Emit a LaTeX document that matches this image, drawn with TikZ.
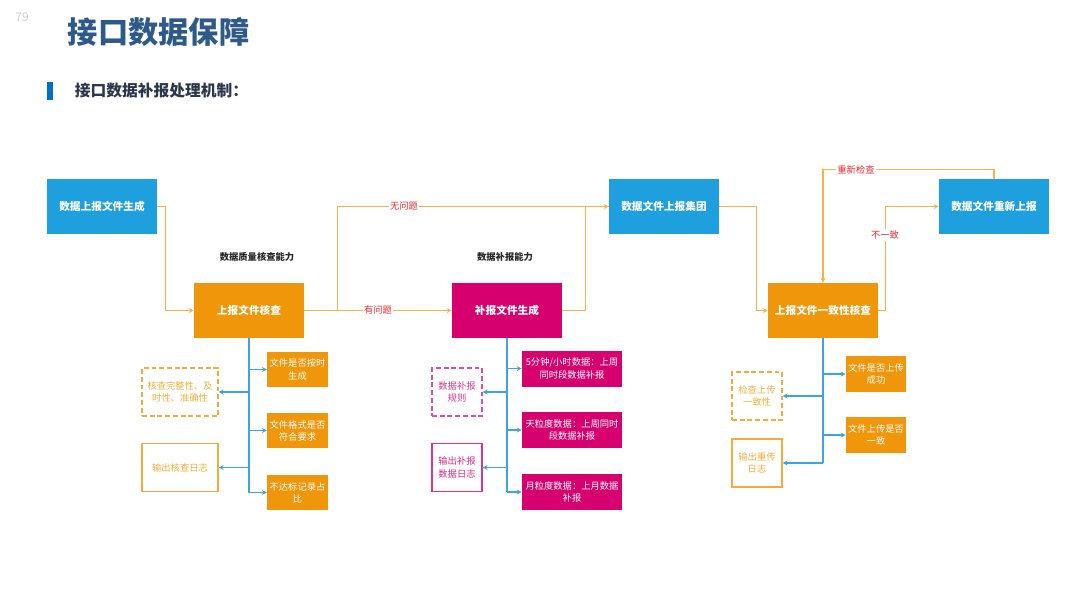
\documentclass[tikz,border=0pt]{standalone}
\usepackage{fontspec}
\setmainfont{Noto Sans CJK SC}
\usetikzlibrary{arrows.meta,positioning}
\definecolor{boxblue}{RGB}{30,160,222}
\definecolor{boxorange}{RGB}{240,150,10}
\definecolor{boxmagenta}{RGB}{214,0,110}
\definecolor{lineorange}{RGB}{245,178,70}
\definecolor{lineblue}{RGB}{60,165,220}
\definecolor{lblred}{RGB}{232,40,45}
\definecolor{titleblue}{RGB}{46,90,138}
\definecolor{barblue}{RGB}{0,112,192}
\definecolor{subgray}{RGB}{45,55,75}
\definecolor{softorange}{RGB}{242,172,60}

\begin{document}
\begin{tikzpicture}[x=0.025cm, y=-0.025cm, >={Stealth[length=3.5pt,width=3.5pt]}]
\tikzstyle{mainbox}=[minimum width=2.75cm, minimum height=1.375cm, inner sep=0pt, text=white, font=\bfseries\fontsize{7.6}{9}\selectfont];
\tikzstyle{bluebox}=[mainbox, fill=boxblue];
\tikzstyle{orangebox}=[mainbox, fill=boxorange];
\tikzstyle{magentabox}=[mainbox, fill=boxmagenta];
\tikzstyle{subbox}=[inner sep=0pt, align=center, text=white, font=\fontsize{6.6}{8.6}\selectfont];
\tikzstyle{rulebox}=[subbox, draw, line width=0.9pt, dash pattern=on 3.5pt off 2pt];
\tikzstyle{logbox}=[subbox, draw, line width=0.9pt];
\tikzstyle{oline}=[lineorange, line width=0.8pt];
\tikzstyle{bline}=[lineblue, line width=1pt];
\tikzstyle{lbl}=[fill=white, inner sep=1pt, text=lblred, font=\fontsize{6.6}{8}\selectfont];
\tikzstyle{ability}=[text=black!85, font=\bfseries\fontsize{6.6}{8}\selectfont];

\useasboundingbox (0,0) rectangle (1080,608);

% heading
\node[text=black!20, font=\fontsize{8.5}{10}\selectfont] (pagenum) at (22,17) {79};
\node[anchor=west, text=titleblue, font=\bfseries\fontsize{21.5}{24}\selectfont] (title) at (63,32) {接口数据保障};
\node[fill=barblue, minimum width=0.15cm, minimum height=0.45cm, inner sep=0pt] (bar) at (50,91) {};
\node[anchor=west, text=subgray, font=\bfseries\fontsize{11.2}{13}\selectfont] (subtitle) at (70,91) {接口数据补报处理机制：};

% main flow
\node[bluebox] (gen) at (102,206.5) {数据上报文件生成};
\node[orangebox] (chk) at (249,310.5) {上报文件核查};
\node[magentabox] (sup) at (507,310.5) {补报文件生成};
\node[bluebox] (grp) at (664,206.5) {数据文件上报集团};
\node[orangebox] (cons) at (823,310.5) {上报文件一致性核查};
\node[bluebox] (resend) at (994,206.5) {数据文件重新上报};

\node[ability] (chkability) at (257,257) {数据质量核查能力};
\node[ability] (supability) at (505,257) {数据补报能力};

\draw[oline, ->] (gen.east) -- ++(8,0) |- (chk.west);
\draw[oline, ->] (chk.east) -- ++(33,0) |- (grp.west);
\draw[oline, ->] (chk.east) -- (sup.west);
\draw[oline] (sup.east) -- ++(23,0) |- (grp.west);
\draw[oline, ->] (grp.east) -- ++(37,0) |- (cons.west);
\draw[oline, ->] (cons.east) -- ++(7,0) |- (resend.west);
\draw[oline, ->] (resend.north) -- ++(0,-9) -| (cons.north);

\node[lbl] (noissue) at (404,206) {无问题};
\node[lbl] (issue) at (378,310) {有问题};
\node[lbl] (mismatch) at (885,235) {不一致};
\node[lbl] (recheck) at (856,170) {重新检查};

% file check branch
\node[subbox, fill=boxorange, minimum width=1.52cm, minimum height=0.87cm] (ck1) at (297.5,369.5) {文件是否按时\\生成};
\node[subbox, fill=boxorange, minimum width=1.52cm, minimum height=0.87cm] (ck2) at (297.5,430.5) {文件格式是否\\符合要求};
\node[subbox, fill=boxorange, minimum width=1.52cm, minimum height=0.87cm] (ck3) at (297.5,492.5) {不达标记录占\\比};
\node[rulebox, draw=softorange, text=softorange, minimum width=1.9cm, minimum height=1.2cm] (ckrule) at (180,392) {核查完整性、及\\时性、准确性};
\node[logbox, draw=softorange, text=softorange, minimum width=1.9cm, minimum height=1.2cm] (cklog) at (180,467.5) {输出核查日志};

\draw[bline] (chk.south) -- (ck3.west -| chk.south);
\draw[bline, ->] (ck1.west -| chk.south) -- (ck1.west);
\draw[bline, ->] (ck2.west -| chk.south) -- (ck2.west);
\draw[bline, ->] (ck3.west -| chk.south) -- (ck3.west);
\draw[bline, ->] (ckrule.east -| chk.south) -- (ckrule.east);
\draw[bline, ->] (cklog.east -| chk.south) -- (cklog.east);

% supplement branch
\node[subbox, fill=boxmagenta, minimum width=2.5cm, minimum height=0.9cm] (sp1) at (572,368.5) {5分钟/小时数据：上周\\同时段数据补报};
\node[subbox, fill=boxmagenta, minimum width=2.5cm, minimum height=0.9cm] (sp2) at (572,430) {天粒度数据：上周同时\\段数据补报};
\node[subbox, fill=boxmagenta, minimum width=2.5cm, minimum height=0.9cm] (sp3) at (572,492) {月粒度数据：上月数据\\补报};
\node[rulebox, draw=boxmagenta!70, text=boxmagenta!80, minimum width=1.25cm, minimum height=1.2cm] (sprule) at (457,392) {数据补报\\规则};
\node[logbox, draw=boxmagenta!80, text=boxmagenta!85, minimum width=1.25cm, minimum height=1.2cm] (splog) at (457,467.5) {输出补报\\数据日志};

\draw[bline] (sup.south) -- (sp3.west -| sup.south);
\draw[bline, ->] (sp1.west -| sup.south) -- (sp1.west);
\draw[bline, ->] (sp2.west -| sup.south) -- (sp2.west);
\draw[bline, ->] (sp3.west -| sup.south) -- (sp3.west);
\draw[bline, ->] (sprule.east -| sup.south) -- (sprule.east);
\draw[bline, ->] (splog.east -| sup.south) -- (splog.east);

% consistency branch
\node[subbox, fill=boxorange, minimum width=1.5cm, minimum height=0.9cm] (cs1) at (876,374) {文件是否上传\\成功};
\node[subbox, fill=boxorange, minimum width=1.5cm, minimum height=0.9cm] (cs2) at (876,435) {文件上传是否\\一致};
\node[rulebox, draw=softorange, text=softorange, minimum width=1.25cm, minimum height=1.2cm] (csrule) at (757,396) {检查上传\\一致性};
\node[logbox, draw=softorange, text=softorange, minimum width=1.25cm, minimum height=1.2cm] (cslog) at (757,463) {输出重传\\日志};

\draw[bline] (cons.south) -- (cslog.east -| cons.south);
\draw[bline, ->] (cs1.west -| cons.south) -- (cs1.west);
\draw[bline, ->] (cs2.west -| cons.south) -- (cs2.west);
\draw[bline, ->] (csrule.east -| cons.south) -- (csrule.east);
\draw[bline, ->] (cslog.east -| cons.south) -- (cslog.east);
\end{tikzpicture}
\end{document}
